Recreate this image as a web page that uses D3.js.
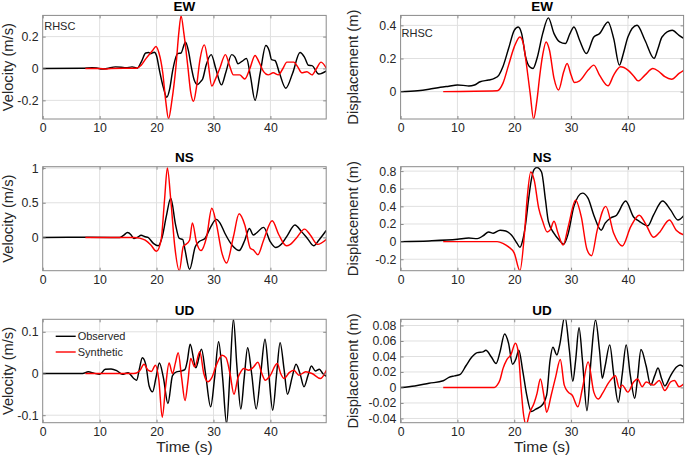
<!DOCTYPE html>
<html>
<head>
<meta charset="utf-8">
<script src="https://cdn.jsdelivr.net/npm/d3@7"></script>
<style>
  html, body { margin: 0; padding: 0; background: #fff; }
  svg { display: block; font-family: "Liberation Sans", Arial, Helvetica, sans-serif; }
</style>
</head>
<body>
<svg id="chart" width="685" height="460"></svg>
<script>
// ---------------- DATA ----------------
const timeRange = [0, 49.8];
const xTicks = [0, 10, 20, 30, 40];

// EW velocity (m/s)
const ewVelObserved = [[0,0],[7,0.002],[8.7,0.005],[9.5,0.003],[10.4,-0.004],[11.3,0],[12.8,0.01],[13.8,0.008],[14.6,0.004],[15.7,0.01],[16.6,0.002],[17.3,0.04],[18.1,0.097],[18.6,0.1],[19.0,0.093],[19.6,0.102],[20.0,0.08],[20.5,-0.01],[21.2,-0.12],[21.8,-0.18],[22.3,-0.13],[22.8,-0.02],[23.3,0.06],[23.7,0.093],[24.3,0.097],[24.9,0.155],[25.1,0.165],[25.6,0.11],[26.1,0.01],[26.6,-0.07],[27.2,-0.1],[27.8,-0.08],[28.1,-0.066],[28.7,0.02],[29.6,0.087],[30.4,0.0],[31.4,-0.103],[32.2,-0.02],[33.2,0.087],[33.8,0.07],[34.3,0.03],[35.0,0.045],[35.8,0.062],[36.5,-0.05],[37.3,-0.2],[38.2,-0.03],[39.2,0.144],[39.8,0.11],[40.2,0.055],[40.8,0.05],[41.6,-0.03],[42.7,-0.124],[43.9,-0.03],[45.2,0.1],[46.0,0.07],[46.7,0.02],[47.3,0.018],[48.5,-0.035],[49.85,-0.015]];
const ewVelSynthetic = [[7.5,0],[10,0],[11,-0.003],[12,0],[16.5,0.002],[17.3,0.02],[18.1,0.06],[19.3,0.113],[19.9,0.138],[20.4,0.1],[21.1,-0.03],[21.6,-0.2],[22.1,-0.315],[22.7,-0.2],[23.4,0.01],[23.9,0.22],[24.3,0.33],[24.8,0.22],[25.5,0.01],[26.0,-0.15],[26.5,-0.206],[27.0,-0.12],[27.6,0.05],[28.4,0.148],[29.0,0.05],[29.7,-0.11],[30.3,-0.07],[31.1,0.0],[32.1,0.087],[32.8,0.02],[33.5,-0.04],[34.6,-0.04],[35.5,-0.066],[36.4,0.0],[37.3,0.082],[38.0,0.04],[38.8,-0.02],[39.6,-0.04],[40.5,-0.027],[41.4,-0.04],[42.2,0.0],[42.9,0.04],[44.1,0.04],[44.8,0.01],[45.5,-0.027],[46.4,-0.02],[47.3,-0.04],[48.1,0.0],[48.9,0.04],[49.85,0.0]];
const ewVelRange = [-0.317, 0.333];
const ewVelTicks = [-0.2, 0, 0.2];

// EW displacement (m)
const ewDispObserved = [[0,0],[3,0.005],[5,0.014],[7,0.026],[8.5,0.033],[10,0.04],[11,0.038],[12,0.034],[13,0.04],[14,0.06],[15.5,0.07],[16.5,0.08],[17.3,0.1],[18,0.15],[19,0.26],[20,0.37],[20.7,0.39],[21.3,0.35],[22,0.21],[22.7,0.15],[23.3,0.14],[24,0.2],[25,0.35],[26,0.445],[27,0.35],[28,0.3],[29,0.29],[29.8,0.35],[30.5,0.39],[31.5,0.31],[32.7,0.23],[34,0.33],[35,0.35],[36.5,0.42],[37.5,0.32],[38.5,0.16],[39.2,0.23],[40,0.33],[41.6,0.4],[43,0.31],[44.6,0.2],[45.3,0.26],[46,0.33],[47.8,0.37],[49,0.34],[49.9,0.32]];
const ewDispSynthetic = [[7.5,0],[17,0.005],[18,0.05],[19,0.16],[20,0.27],[21,0.33],[21.6,0.29],[22,0.2],[22.8,-0.01],[23.4,-0.165],[24,-0.05],[24.5,0.1],[25,0.22],[25.6,0.3],[26.2,0.25],[27,0.08],[27.8,0.01],[28.7,0.12],[29.3,0.17],[30,0.1],[30.6,0.055],[31.5,0.065],[33,0.13],[34,0.16],[35,0.1],[36.5,0.035],[37.5,0.1],[38.7,0.15],[40,0.13],[41,0.095],[41.8,0.065],[43,0.1],[44.4,0.14],[45.5,0.12],[46.5,0.09],[47.7,0.075],[49,0.11],[49.9,0.13]];
const ewDispRange = [-0.165, 0.46];
const ewDispTicks = [0, 0.2, 0.4];

// NS velocity (m/s)
const nsVelObserved = [[0,0],[8,0.002],[12,0],[13.5,0],[14.2,0.03],[14.9,0.07],[15.5,0.04],[16,-0.015],[16.6,0],[17.3,0.03],[18,0.01],[18.5,0],[19.5,-0.09],[20.3,-0.12],[21,0.01],[21.7,0.3],[22.5,0.565],[23.3,0.2],[24,-0.015],[24.6,-0.03],[25,-0.18],[25.8,-0.46],[26.8,-0.135],[27.5,-0.06],[28.5,-0.015],[29.5,0.15],[30.5,0.26],[31.2,0.2],[32,0.06],[33.5,-0.135],[34.5,-0.19],[35.5,-0.04],[36.3,0.13],[37,0.035],[37.5,0.06],[38.8,0.145],[40,-0.065],[40.9,-0.145],[42,-0.09],[43,0.03],[44.3,0.18],[45.5,0.08],[46.5,-0.015],[47.6,-0.12],[48.5,-0.04],[49.8,0.1]];
const nsVelSynthetic = [[7.5,0],[16,0],[17,-0.01],[18,-0.04],[19,-0.11],[20,-0.2],[20.8,-0.04],[21.4,0.54],[21.9,1.0],[22.5,0.54],[23.2,-0.13],[24,-0.48],[24.7,-0.13],[25,-0.11],[25.8,-0.04],[26.3,0.21],[27,-0.065],[27.8,-0.19],[28.8,0.01],[29.7,0.42],[30.5,0.2],[31.5,-0.23],[32.3,-0.37],[33.5,0.01],[34.5,0.34],[35.5,0.18],[36.5,-0.16],[37,-0.18],[37.8,-0.25],[38.8,-0.04],[40.3,0.24],[41.5,0.035],[42.8,-0.12],[43.5,-0.1],[44.5,-0.015],[46,0.12],[47,0.035],[48.3,-0.1],[49.8,-0.03]];
const nsVelRange = [-0.48, 1.02];
const nsVelTicks = [0, 0.5, 1];

// NS displacement (m)
const nsDispObserved = [[0,0],[5,0.008],[10,0.026],[12,0.04],[13.5,0.034],[14.5,0.065],[15.5,0.11],[16.3,0.095],[17.5,0.13],[18.5,0.12],[19.5,0.075],[20.5,-0.02],[21,-0.065],[21.5,0.02],[22,0.2],[22.5,0.47],[23,0.7],[23.5,0.82],[24,0.84],[24.8,0.79],[25.5,0.47],[26,0.23],[27,0.094],[28,0.011],[28.7,-0.03],[29.5,0.094],[30.5,0.4],[32,0.55],[33,0.49],[34,0.3],[35.3,0.13],[36,0.21],[37,0.27],[38,0.3],[39.6,0.46],[41,0.28],[42,0.23],[43.5,0.18],[44.5,0.3],[46.1,0.46],[47.5,0.36],[48.8,0.245],[49.9,0.3]];
const nsDispSynthetic = [[7.5,0],[17,0],[18,-0.02],[19,-0.06],[20,-0.13],[21,-0.33],[21.8,0.094],[22.3,0.51],[22.9,0.79],[23.5,0.7],[24.3,0.38],[25,0.23],[25.8,0.11],[26.3,0.13],[27,0.23],[27.7,0.094],[28.6,-0.04],[29.5,0.17],[30.8,0.47],[31.8,0.28],[32.8,-0.09],[33.6,-0.16],[34.6,0.13],[36.1,0.4],[37.5,0.094],[39,-0.05],[40.5,0.17],[42,0.3],[43.2,0.19],[44.5,0.05],[45.5,0.1],[47.3,0.245],[48.5,0.13],[49.9,0.075]];
const nsDispRange = [-0.33, 0.85];
const nsDispTicks = [-0.2, 0, 0.2, 0.4, 0.6, 0.8];

// UD velocity (m/s)
const udVelObserved = [[0,0],[7,0],[8,0.004],[9,0.001],[10,-0.002],[11,0.01],[12,0.011],[13,0.007],[14,-0.002],[15,0.002],[16,-0.012],[16.5,-0.016],[17,0.012],[17.5,0.038],[18.1,0.022],[18.7,-0.03],[19.3,-0.044],[19.9,-0.01],[20.5,0.025],[21.2,-0.01],[22.0,-0.072],[22.8,-0.005],[23.5,0.004],[24.3,0.006],[25.0,0.01],[25.4,0.03],[25.9,0.07],[26.9,0.014],[27.9,0.058],[28.6,0.0],[29.5,-0.08],[30.2,-0.01],[30.9,0.076],[31.6,-0.01],[32.3,-0.12],[32.9,0.0],[33.5,0.13],[34.1,0.02],[34.8,-0.085],[35.4,-0.01],[36.0,0.062],[36.7,0.0],[37.5,-0.085],[38.3,0.0],[39.05,0.082],[39.7,0.0],[40.4,-0.088],[41.1,0.0],[41.7,0.074],[42.4,0.01],[43.0,-0.05],[43.8,-0.01],[44.5,0.022],[45.2,0.0],[45.9,-0.032],[46.6,-0.005],[47.2,0.018],[47.9,0.006],[48.6,0.01],[49.2,0.0],[49.85,-0.007]];
const udVelSynthetic = [[7.5,0],[16,0],[17,0.006],[17.8,0.022],[18.5,0.008],[19.1,0.005],[19.8,0.02],[20.4,-0.015],[21.0,-0.105],[21.6,-0.03],[22.2,0.025],[22.8,0.0],[23.3,0.025],[23.8,0.05],[24.4,-0.01],[25.0,-0.065],[25.5,-0.02],[26.0,0.036],[26.7,0.016],[27.6,0.052],[28.3,0.0],[29.0,-0.02],[29.7,-0.01],[30.5,0.02],[31.5,0.044],[32.2,0.038],[32.9,0.0],[33.6,-0.05],[34.3,-0.01],[34.8,0.004],[35.3,0.012],[36.2,0.008],[37.0,0.015],[37.8,0.027],[38.5,0.0],[39.1,-0.016],[39.9,-0.006],[41.2,0.024],[41.8,0.0],[42.4,-0.012],[43.3,0.002],[44.1,0.008],[45.0,-0.004],[46.2,0.004],[47.3,0.0],[48.8,-0.012],[49.85,0.008]];
const udVelRange = [-0.118, 0.13];
const udVelTicks = [-0.1, 0, 0.1];

// UD displacement (m)
const udDispObserved = [[0,0],[2.5,0.002],[5,0.0054],[7.5,0.0086],[8.5,0.013],[9.5,0.015],[10.5,0.017],[11.5,0.028],[12.5,0.039],[13.5,0.045],[14.5,0.046],[15,0.048],[16,0.039],[16.8,0.031],[17.5,0.046],[18.3,0.069],[19,0.057],[19.7,0.03],[20.3,0.037],[20.8,0.048],[21.5,0.021],[22.2,-0.01],[23,-0.031],[23.8,-0.028],[25,-0.022],[25.7,-0.01],[26.3,0.035],[26.8,0.052],[27.5,0.042],[28,0.055],[28.9,0.092],[29.7,0.048],[30.3,0.008],[30.8,0.035],[31.4,0.077],[32,0.035],[32.8,-0.03],[33.5,0.035],[34.3,0.087],[35,0.048],[35.5,0.012],[36,0.028],[36.8,0.055],[37.5,0.017],[38.3,-0.019],[39,0.017],[39.7,0.055],[40.4,0.017],[41.2,-0.014],[41.7,0.012],[42.3,0.049],[43.2,0.028],[44,0.003],[44.7,0.015],[45.3,0.025],[45.9,0.012],[46.5,0.002],[47.5,0.015],[48.5,0.026],[49.2,0.029],[49.9,0.026]];
const udDispSynthetic = [[7.5,0],[16.5,0],[17,0.003],[17.5,0.01],[18,0.024],[18.7,0.036],[19.4,0.042],[20.2,0.057],[20.7,0.046],[21.2,-0.001],[21.6,-0.033],[22.1,-0.048],[22.7,-0.033],[23.5,-0.02],[24,-0.008],[24.6,0.011],[25.2,-0.01],[25.7,-0.032],[26.5,-0.01],[27.3,0.014],[28.1,0.036],[28.8,0.003],[29.5,-0.006],[30.2,-0.01],[31.2,-0.025],[32,-0.001],[33,0.033],[34,-0.006],[34.8,-0.015],[35.5,-0.008],[36.5,0.005],[37,0.01],[37.8,0.015],[38.5,-0.001],[39,0.003],[40,-0.006],[41,0.007],[41.7,0.011],[42.5,0.001],[43.2,0.007],[44.5,0.003],[45.5,0.009],[46.5,-0.004],[47.5,0.007],[48.2,0.009],[49,0.001],[49.9,0.005]];
const udDispRange = [-0.0455, 0.088];
const udDispTicks = [-0.04, -0.02, 0, 0.02, 0.04, 0.06, 0.08];

const components = ["EW", "NS", "UD"];
const quantityLabels = ["Velocity (m/s)", "Displacement (m)"];
const seriesNames = ["Observed", "Synthetic"];
const stationName = "RHSC";
const xLabel = "Time (s)";

// ---------------- LAYOUT ----------------
const cols = [{x0: 42.7, x1: 326.2}, {x0: 400.6, x1: 683.6}];
const rows = [{y0: 15.4, y1: 119}, {y0: 166.7, y1: 270.7}, {y0: 319.3, y1: 422.7}];
const colors = {obs: "#000000", syn: "#ff0000", grid: "#e0e0e0", box: "#8a8a8a", text: "#262626"};

const panels = [
  {row:0, col:0, obs: ewVelObserved, syn: ewVelSynthetic, range: ewVelRange, ticks: ewVelTicks, station: {dx:1.5, y:30}},
  {row:0, col:1, obs: ewDispObserved, syn: ewDispSynthetic, range: ewDispRange, ticks: ewDispTicks, station: {dx:1, y:36.5}},
  {row:1, col:0, obs: nsVelObserved, syn: nsVelSynthetic, range: nsVelRange, ticks: nsVelTicks},
  {row:1, col:1, obs: nsDispObserved, syn: nsDispSynthetic, range: nsDispRange, ticks: nsDispTicks},
  {row:2, col:0, obs: udVelObserved, syn: udVelSynthetic, range: udVelRange, ticks: udVelTicks, legend: true},
  {row:2, col:1, obs: udDispObserved, syn: udDispSynthetic, range: udDispRange, ticks: udDispTicks},
];

const svg = d3.select("#chart");
const fmt = d => String(d);

panels.forEach((p, i) => {
  const c = cols[p.col], r = rows[p.row];
  const x = d3.scaleLinear().domain(timeRange).range([c.x0, c.x1]);
  const y = d3.scaleLinear().domain(p.range).range([r.y1, r.y0]);
  const g = svg.append("g");

  // grid
  g.append("g").selectAll("line").data(xTicks.filter(t => t > timeRange[0])).join("line")
    .attr("x1", d => x(d)).attr("x2", d => x(d)).attr("y1", r.y0).attr("y2", r.y1)
    .attr("stroke", colors.grid).attr("stroke-width", 1);
  g.append("g").selectAll("line").data(p.ticks).join("line")
    .attr("x1", c.x0).attr("x2", c.x1).attr("y1", d => y(d)).attr("y2", d => y(d))
    .attr("stroke", colors.grid).attr("stroke-width", 1);

  // clip
  const clipId = "clip" + i;
  svg.append("clipPath").attr("id", clipId).append("rect")
    .attr("x", c.x0).attr("y", r.y0).attr("width", c.x1 - c.x0).attr("height", r.y1 - r.y0);

  const line = d3.line().x(d => x(d[0])).y(d => y(d[1])).curve(d3.curveMonotoneX);
  const lg = g.append("g").attr("clip-path", `url(#${clipId})`);
  lg.append("path").datum(p.obs).attr("d", line).attr("fill", "none")
    .attr("stroke", colors.obs).attr("stroke-width", 1.45).attr("stroke-linejoin", "round");
  lg.append("path").datum(p.syn).attr("d", line).attr("fill", "none")
    .attr("stroke", colors.syn).attr("stroke-width", 1.45).attr("stroke-linejoin", "round");

  // axes (inward ticks)
  const xAxis = d3.axisBottom(x).tickValues(xTicks).tickFormat(fmt).tickSizeInner(-3).tickSizeOuter(0).tickPadding(4.3);
  const yAxis = d3.axisLeft(y).tickValues(p.ticks).tickFormat(fmt).tickSizeInner(-3).tickSizeOuter(0).tickPadding(4.2);
  const xTop = d3.axisTop(x).tickValues(xTicks).tickFormat("").tickSizeInner(-3).tickSizeOuter(0);
  const yRight = d3.axisRight(y).tickValues(p.ticks).tickFormat("").tickSizeInner(-3).tickSizeOuter(0);

  const styleAxis = sel => {
    sel.select(".domain").remove();
    sel.selectAll(".tick line").attr("stroke", colors.box);
    sel.selectAll(".tick text").attr("fill", colors.text).style("font-size", "12.3px")
      .style("font-family", '"Liberation Sans", Arial, sans-serif');
  };
  g.append("g").attr("transform", `translate(0,${r.y1})`).call(xAxis).call(styleAxis);
  g.append("g").attr("transform", `translate(${c.x0},0)`).call(yAxis).call(styleAxis);
  g.append("g").attr("transform", `translate(0,${r.y0})`).call(xTop).call(styleAxis);
  g.append("g").attr("transform", `translate(${c.x1},0)`).call(yRight).call(styleAxis);

  // box
  g.append("rect").attr("x", c.x0).attr("y", r.y0).attr("width", c.x1 - c.x0).attr("height", r.y1 - r.y0)
    .attr("fill", "none").attr("stroke", colors.box).attr("stroke-width", 1);

  // title
  g.append("text").attr("x", (c.x0 + c.x1) / 2).attr("y", r.y0 - 4.3).attr("text-anchor", "middle")
    .style("font-size", "13.5px").style("font-weight", "bold").attr("fill", "#000").text(components[p.row]);

  // y label
  const ylx = p.col === 0 ? c.x0 - 29.5 : c.x0 - 43;
  g.append("text").attr("transform", `translate(${ylx},${(r.y0 + r.y1) / 2}) rotate(-90)`)
    .attr("text-anchor", "middle").style("font-size", "14.7px").attr("fill", colors.text)
    .text(quantityLabels[p.col]);

  // x label on bottom row
  if (p.row === 2) {
    g.append("text").attr("x", (c.x0 + c.x1) / 2).attr("y", 451.5).attr("text-anchor", "middle")
      .style("font-size", "15.5px").attr("fill", colors.text).text(xLabel);
  }

  if (p.station) {
    g.append("text").attr("x", c.x0 + p.station.dx).attr("y", p.station.y)
      .style("font-size", "11px").attr("fill", colors.text).text(stationName);
  }

  if (p.legend) {
    const lx = c.x0 + 1, ly = r.y0 + 14;
    const leg = g.append("g");
    leg.append("rect").attr("x", lx).attr("y", ly).attr("width", 86).attr("height", 28).attr("fill", "#fff");
    [colors.obs, colors.syn].forEach((col, k) => {
      const yy = r.y0 + 17 + k * 15.7;
      leg.append("line").attr("x1", c.x0 + 13).attr("x2", c.x0 + 33).attr("y1", yy).attr("y2", yy)
        .attr("stroke", col).attr("stroke-width", 1.4);
      leg.append("text").attr("x", c.x0 + 35).attr("y", yy + 4).style("font-size", "11px")
        .attr("fill", colors.text).text(seriesNames[k]);
    });
  }
});
</script>
</body>
</html>
